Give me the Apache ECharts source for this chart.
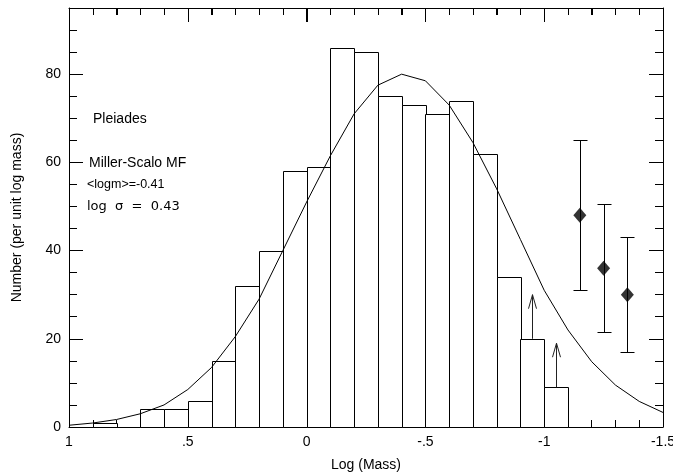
<!DOCTYPE html>
<html>
<head>
<meta charset="utf-8">
<script src="https://cdn.jsdelivr.net/npm/echarts@6/dist/echarts.min.js"></script>
<style>
html,body{margin:0;padding:0;background:#fff;}
#chart{width:673px;height:474px;}
</style>
</head>
<body>
<div id="chart"></div>
<script>
// Histogram bins: upper edge of each bin (log mass), bin width 0.1
const binUpper = [1.0, 0.9, 0.8, 0.7, 0.6, 0.5, 0.4, 0.3, 0.2, 0.1, 0.0, -0.1, -0.2, -0.3, -0.4, -0.5, -0.6, -0.7, -0.8, -0.9, -1.0];
const binWidth = 0.1;
const binCounts = [0, 1, 0, 4, 4, 6, 15, 32, 40, 58, 59, 86, 85, 75, 73, 71, 74, 62, 34, 20, 9];

// Miller-Scalo MF curve
const curveX = [1.0, 0.9, 0.8, 0.7, 0.6, 0.5, 0.4, 0.3, 0.2, 0.1, 0.0, -0.1, -0.2, -0.3, -0.4, -0.5, -0.6, -0.7, -0.8, -0.9, -1.0, -1.1, -1.2, -1.3, -1.4, -1.5];
const curveY = [0.4, 0.9, 1.7, 3.0, 5.0, 8.5, 13.5, 20.5, 29, 40, 51, 61.5, 71, 77.5, 80, 78.5, 73, 64.5, 54, 42.5, 31, 22, 14.8, 9.5, 5.8, 3.3];

// Lower-limit arrows
const arrowX = [-0.95, -1.05];
const arrowFrom = [20, 9];
const arrowTo = [30, 19];

// Points with error bars
const ptX = [-1.15, -1.25, -1.35];
const ptY = [48, 36, 30];
const ptHi = [65, 50.5, 43];
const ptLo = [31, 21.5, 17];

// Axis ticks and labels
const xTickLabels = {'1': '1', '0.5': '.5', '0': '0', '-0.5': '-.5', '-1': '-1', '-1.5': '-1.5'};
const xMajorTicks = [1, 0.5, 0, -0.5, -1, -1.5];
const xMinorTicks = [0.9, 0.8, 0.7, 0.6, 0.4, 0.3, 0.2, 0.1, -0.1, -0.2, -0.3, -0.4, -0.6, -0.7, -0.8, -0.9, -1.1, -1.2, -1.3, -1.4];

const FONT = 'Liberation Sans, Arial, sans-serif';

const chart = echarts.init(document.getElementById('chart'), null, {renderer: 'canvas'});

const histData = binUpper.map((u, i) => [u, +(u - binWidth).toFixed(2), binCounts[i]]);
const curveData = curveX.map((x, i) => [x, curveY[i]]);
const arrowData = arrowX.map((x, i) => [x, arrowFrom[i], arrowTo[i]]);
const errData = ptX.map((x, i) => [x, ptLo[i], ptHi[i]]);
const ptData = ptX.map((x, i) => [x, ptY[i]]);
const topTickData = xMajorTicks.map(v => [v, 14]).concat(xMinorTicks.map(v => [v, 7]));

function xAxisDef(pos, labels) {
  return {
    type: 'value', min: -1.5, max: 1, interval: 0.5, inverse: true, position: pos,
    axisLine: {show: true, onZero: false, lineStyle: {color: '#000', width: 1}},
    axisTick: {show: true, inside: true, length: 14, lineStyle: {color: '#000', width: 1}},
    minorTick: {show: true, splitNumber: 5, length: 7, lineStyle: {color: '#000', width: 1}},
    splitLine: {show: false}, minorSplitLine: {show: false},
    axisLabel: labels ? {show: true, margin: 8, color: '#000', fontSize: 14, fontFamily: FONT,
      formatter: v => { const k = String(+(+v).toFixed(2)); return xTickLabels[k] !== undefined ? xTickLabels[k] : ''; }}
      : {show: false},
    name: labels ? 'Log (Mass)' : undefined, nameLocation: 'middle', nameGap: 31,
    nameTextStyle: {color: '#000', fontSize: 14, fontFamily: FONT}
  };
}

function yMajor(pos, labels) {
  return {
    type: 'value', min: 0, max: 95, interval: 20, position: pos,
    axisLine: {show: true, onZero: false, lineStyle: {color: '#000', width: 1}},
    axisTick: {show: true, inside: true, length: 14, lineStyle: {color: '#000', width: 1}},
    axisLabel: labels ? {show: true, margin: 8, color: '#000', fontSize: 14, fontFamily: FONT, showMaxLabel: false}
      : {show: false},
    splitLine: {show: false},
    name: labels ? 'Number (per unit log mass)' : undefined,
    nameLocation: 'middle', nameGap: 45,
    nameTextStyle: {color: '#000', fontSize: 14, fontFamily: FONT}
  };
}
function yMinor(pos) {
  return {
    type: 'value', min: 0, max: 95, interval: 5, position: pos,
    axisLine: {show: false, onZero: false},
    axisTick: {show: true, inside: true, length: 8, lineStyle: {color: '#000', width: 1}},
    axisLabel: {show: false},
    splitLine: {show: false}
  };
}

const option = {
  backgroundColor: '#fff',
  animation: false,
  grid: {left: 69, right: 10, top: 8, bottom: 47, containLabel: false, outerBoundsMode: 'none'},
  xAxis: [xAxisDef('bottom', true), xAxisDef('top', false)],
  yAxis: [yMajor('left', true), yMinor('left'), yMajor('right', false), yMinor('right')],
  graphic: [
    {type: 'text', x: 93, y: 119, style: {text: 'Pleiades', fill: '#000', font: '14px ' + FONT, align: 'left', verticalAlign: 'middle'}},
    {type: 'text', x: 89, y: 163, style: {text: 'Miller-Scalo MF', fill: '#000', font: '14px ' + FONT, align: 'left', verticalAlign: 'middle'}},
    {type: 'text', x: 87, y: 185, style: {text: '<logm>=-0.41', fill: '#000', font: '12.5px ' + FONT, align: 'left', verticalAlign: 'middle'}},
    {type: 'text', x: 87, y: 207, style: {text: 'log  σ  =  0.43', fill: '#000', font: '13px DejaVu Sans, sans-serif', align: 'left', verticalAlign: 'middle'}}
  ],
  series: [
    {
      type: 'custom', xAxisIndex: 0, yAxisIndex: 0, data: histData, z: 2,
      renderItem: function (params, api) {
        const p0 = api.coord([api.value(0), api.value(2)]);
        const p1 = api.coord([api.value(1), 0]);
        const x = Math.round(Math.min(p0[0], p1[0])) + 0.5;
        const w = Math.round(Math.abs(p1[0] - p0[0]));
        const y = Math.round(p0[1]) + 0.5;
        const h = Math.round(p1[1]) - Math.round(p0[1]);
        return {type: 'rect', shape: {x: x, y: y, width: w, height: h},
          style: {fill: '#fff', stroke: '#000', lineWidth: 1}};
      }
    },
    {
      type: 'line', xAxisIndex: 0, yAxisIndex: 0, data: curveData, showSymbol: false, symbol: 'none',
      lineStyle: {color: '#000', width: 1}, z: 3, silent: true
    },
    {
      // tick marks along the top frame
      type: 'custom', xAxisIndex: 0, yAxisIndex: 0, data: topTickData, z: 10, zlevel: 1, silent: true, clip: false,
      renderItem: function (params, api) {
        const p = api.coord([api.value(0), 95]);
        const x = Math.round(p[0]) + 0.5;
        const y = Math.round(p[1]);
        return {type: 'rect', shape: {x: x - 0.5, y: y, width: 1, height: api.value(1)}, style: {fill: '#000', stroke: null}};
      }
    },
    {
      type: 'custom', xAxisIndex: 0, yAxisIndex: 0, data: arrowData, z: 4,
      renderItem: function (params, api) {
        const a = api.coord([api.value(0), api.value(1)]);
        const b = api.coord([api.value(0), api.value(2)]);
        const x = Math.round(a[0]) + 0.5;
        return {type: 'group', children: [
          {type: 'line', shape: {x1: x, y1: a[1], x2: x, y2: b[1]}, style: {stroke: '#222', lineWidth: 1}},
          {type: 'polyline', shape: {points: [[x - 4, b[1] + 14], [x, b[1]], [x + 4, b[1] + 14]]}, style: {stroke: '#222', lineWidth: 1, fill: null}}
        ]};
      }
    },
    {
      type: 'custom', xAxisIndex: 0, yAxisIndex: 0, data: errData, z: 4,
      renderItem: function (params, api) {
        const lo = api.coord([api.value(0), api.value(1)]);
        const hi = api.coord([api.value(0), api.value(2)]);
        const x = Math.round(lo[0]) + 0.5;
        const ylo = Math.round(lo[1]) + 0.5, yhi = Math.round(hi[1]) + 0.5;
        return {type: 'group', children: [
          {type: 'line', shape: {x1: x, y1: ylo, x2: x, y2: yhi}, style: {stroke: '#000', lineWidth: 1}},
          {type: 'line', shape: {x1: x - 7, y1: ylo, x2: x + 7, y2: ylo}, style: {stroke: '#000', lineWidth: 1}},
          {type: 'line', shape: {x1: x - 7, y1: yhi, x2: x + 7, y2: yhi}, style: {stroke: '#000', lineWidth: 1}}
        ]};
      }
    },
    {
      type: 'scatter', xAxisIndex: 0, yAxisIndex: 0, data: ptData, symbol: 'diamond', symbolSize: [13, 15],
      itemStyle: {color: '#000'}, z: 5
    }
  ]
};
chart.setOption(option);
</script>
</body>
</html>
